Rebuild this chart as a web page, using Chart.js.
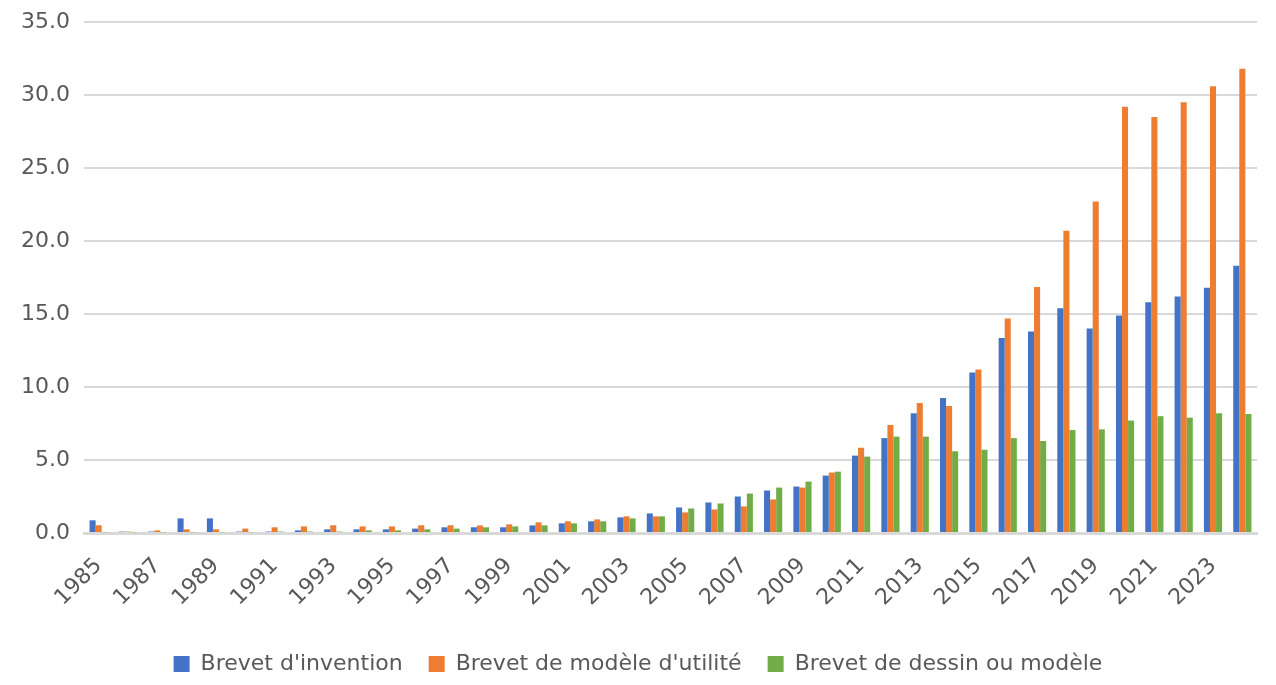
<!DOCTYPE html>
<html>
<head>
<meta charset="utf-8">
<script src="https://cdn.jsdelivr.net/npm/chart.js@4.4.1/dist/chart.umd.min.js"></script>
<style>
  html, body { margin: 0; padding: 0; background: #fff; }
  #wrap { width: 1276px; height: 685px; }
</style>
</head>
<body>
<div id="wrap"><canvas id="chart" width="1276" height="685"></canvas></div>
<script>
// categories and values
const years = ['1985','1986','1987','1988','1989','1990','1991','1992','1993','1994',
  '1995','1996','1997','1998','1999','2000','2001','2002','2003','2004',
  '2005','2006','2007','2008','2009','2010','2011','2012','2013','2014',
  '2015','2016','2017','2018','2019','2020','2021','2022','2023','2024'];

const invention = [0.87, 0.1, 0.1, 1.0, 1.0, 0.1, 0.1, 0.18, 0.25, 0.25,
  0.25, 0.3, 0.39, 0.39, 0.39, 0.52, 0.66, 0.8, 1.07, 1.34,
  1.75, 2.09, 2.5, 2.91, 3.18, 3.93, 5.3, 6.5, 8.2, 9.25,
  11.0, 13.35, 13.8, 15.4, 14.0, 14.9, 15.8, 16.2, 16.8, 18.3];

const utilite = [0.53, 0.1, 0.18, 0.25, 0.25, 0.3, 0.39, 0.45, 0.53, 0.45,
  0.45, 0.53, 0.53, 0.52, 0.59, 0.73, 0.8, 0.93, 1.14, 1.14,
  1.41, 1.61, 1.82, 2.3, 3.11, 4.14, 5.84, 7.4, 8.9, 8.7,
  11.2, 14.7, 16.85, 20.7, 22.7, 29.2, 28.5, 29.5, 30.6, 31.8];

const dessin = [0.05, 0.05, 0.05, 0.05, 0.05, 0.05, 0.1, 0.1, 0.1, 0.18,
  0.18, 0.25, 0.3, 0.39, 0.45, 0.52, 0.66, 0.8, 1.0, 1.14,
  1.68, 2.02, 2.7, 3.11, 3.52, 4.2, 5.23, 6.6, 6.6, 5.6,
  5.7, 6.5, 6.3, 7.05, 7.1, 7.7, 8.0, 7.9, 8.2, 8.15];

const seriesNames = ["Brevet d'invention", "Brevet de modèle d'utilité", "Brevet de dessin ou modèle"];
const yTicks = [0, 5, 10, 15, 20, 25, 30, 35];

const textColor = '#595959';
const fontFamily = "'DejaVu Sans', sans-serif";

const ctx = document.getElementById('chart').getContext('2d');
new Chart(ctx, {
  type: 'bar',
  data: {
    labels: years,
    datasets: [
      { label: seriesNames[0], data: invention, backgroundColor: '#4472C4' },
      { label: seriesNames[1], data: utilite, backgroundColor: '#ED7D31' },
      { label: seriesNames[2], data: dessin, backgroundColor: '#70AD47' }
    ]
  },
  options: {
    responsive: false,
    animation: false,
    devicePixelRatio: 1,
    datasets: {
      bar: { barPercentage: 1.0, categoryPercentage: 0.62 }
    },
    layout: { padding: { top: 22, right: 19, bottom: 0, left: 19 } },
    plugins: {
      tooltip: { enabled: false },
      legend: {
        position: 'bottom',
        labels: {
          color: textColor,
          font: { family: fontFamily, size: 22 },
          boxWidth: 16,
          boxHeight: 16,
          padding: 26
        }
      }
    },
    scales: {
      x: {
        grid: { display: false, drawTicks: false },
        border: { display: true, color: '#D9D9D9', width: 3 },
        ticks: {
          autoSkip: false,
          maxRotation: 45,
          minRotation: 45,
          padding: 20,
          color: textColor,
          font: { family: fontFamily, size: 22 },
          callback: function (value, index) {
            return index % 2 === 0 ? this.getLabelForValue(value) : '';
          }
        },
        afterFit: (scale) => {
          scale.height = 94;
          scale.paddingLeft = 0;
          scale.paddingRight = 0;
        }
      },
      y: {
        min: 0,
        max: 35,
        afterBuildTicks: (scale) => { scale.ticks = yTicks.map(v => ({ value: v })); },
        grid: { color: '#D9D9D9', lineWidth: 2, drawTicks: false },
        border: { display: false },
        ticks: {
          padding: 14,
          color: textColor,
          font: { family: fontFamily, size: 22 },
          callback: (v) => Number(v).toFixed(1)
        },
        afterFit: (scale) => {
          scale.width = 65;
          scale.paddingTop = 0;
        }
      }
    }
  }
});
</script>
</body>
</html>
